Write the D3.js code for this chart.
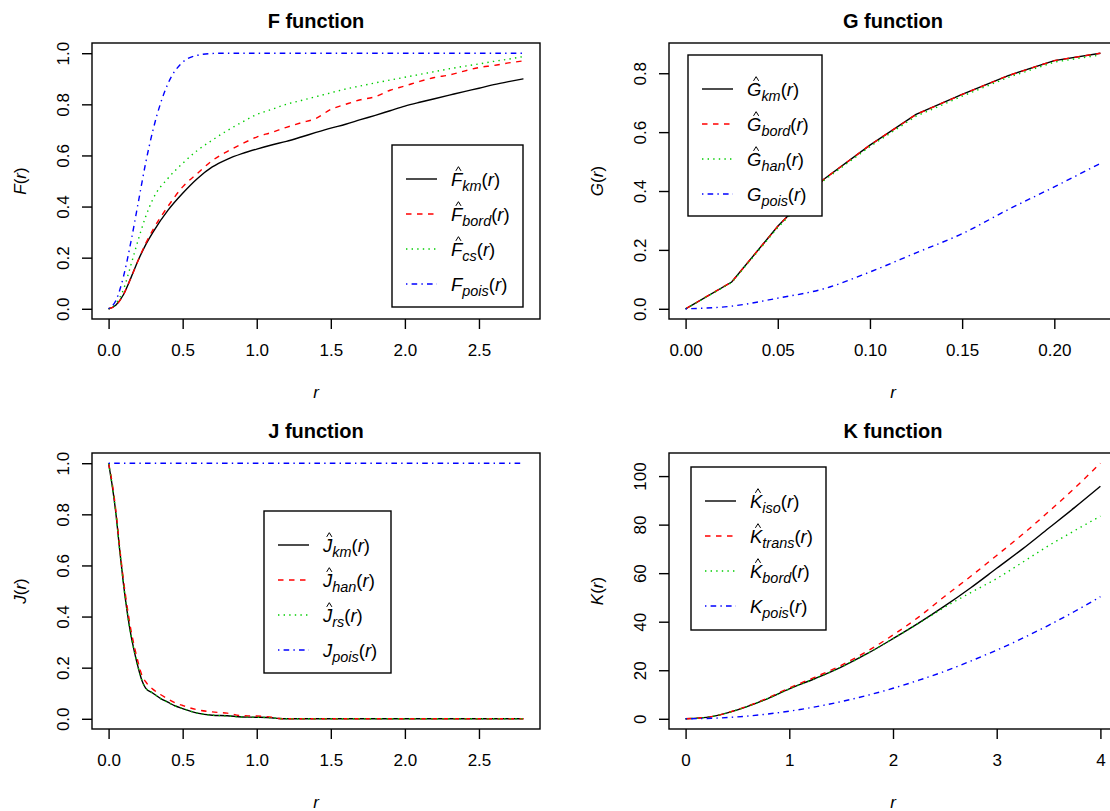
<!DOCTYPE html>
<html>
<head>
<meta charset="utf-8">
<script src="https://cdn.jsdelivr.net/npm/d3@7/dist/d3.min.js"></script>
<style>
  body { margin: 0; background: #fff; }
  svg { display: block; font-family: "Liberation Sans", Arial, Helvetica, sans-serif; }
</style>
</head>
<body>
<svg id="chart" width="1110" height="811"></svg>
<script>
// ---- data ----
// F function
const fR    = [0,0.05,0.1,0.15,0.2,0.25,0.3, 0.4,0.5,0.6,0.7,0.8,0.9,1.0, 1.1,1.2,1.3,1.4,1.5,1.6,1.7,1.8,1.9,2.0, 2.1,2.2,2.3,2.4,2.5,2.6,2.7,2.8];
const fKm   = [0,0.015,0.055,0.12,0.19,0.25,0.30, 0.385,0.452,0.51,0.555,0.585,0.607,0.625, 0.641,0.655,0.672,0.69,0.707,0.722,0.74,0.757,0.775,0.793, 0.808,0.822,0.836,0.85,0.863,0.877,0.889,0.90];
const fBord = [0,0.015,0.055,0.12,0.19,0.255,0.31, 0.40,0.477,0.53,0.58,0.615,0.645,0.672, 0.69,0.71,0.728,0.745,0.78,0.80,0.818,0.83,0.855,0.872, 0.89,0.905,0.915,0.93,0.944,0.952,0.962,0.97];
const fCs   = [0,0.02,0.075,0.17,0.27,0.36,0.43, 0.51,0.569,0.62,0.66,0.697,0.73,0.76, 0.78,0.80,0.815,0.83,0.845,0.86,0.872,0.884,0.895,0.906, 0.917,0.928,0.939,0.949,0.958,0.968,0.977,0.987];
const fPois = [0,0.033,0.125,0.26,0.415,0.57,0.70, 0.88,0.965,0.992,0.999,1,1,1, 1,1,1,1,1,1,1,1,1,1, 1,1,1,1,1,1,1,1];
const fXTicks = [0,0.5,1,1.5,2,2.5];
const fXLabels = ["0.0","0.5","1.0","1.5","2.0","2.5"];
const fYTicks = [0,0.2,0.4,0.6,0.8,1];
const fYLabels = ["0.0","0.2","0.4","0.6","0.8","1.0"];

// G function
const gR    = [0,0.025,0.05,0.075,0.1,0.125,0.15,0.175,0.2,0.225];
const gKm   = [0,0.091,0.28,0.44,0.556,0.66,0.728,0.792,0.843,0.868];
const gBord = [0,0.091,0.28,0.44,0.556,0.66,0.728,0.792,0.843,0.868];
const gHan  = [0,0.089,0.276,0.436,0.551,0.654,0.722,0.786,0.838,0.862];
const gPois = [0,0.009,0.036,0.068,0.125,0.19,0.255,0.337,0.414,0.494];
const gXTicks = [0,0.05,0.1,0.15,0.2];
const gXLabels = ["0.00","0.05","0.10","0.15","0.20"];
const gYTicks = [0,0.2,0.4,0.6,0.8];
const gYLabels = ["0.0","0.2","0.4","0.6","0.8"];

// J function
const jR    = [0,0.025,0.05,0.075,0.1,0.125,0.15,0.175,0.2,0.225,0.25, 0.3,0.35,0.4,0.45,0.5, 0.6,0.7,0.8,0.9,1.0, 1.1,1.15,1.2, 1.5,2.0,2.5,2.8];
const jKm   = [1,0.91,0.80,0.66,0.53,0.42,0.33,0.26,0.20,0.15,0.12, 0.10,0.08,0.065,0.05,0.04, 0.022,0.014,0.012,0.007,0.006, 0.004,0.001,0, 0,0,0,0];
const jHan  = [1,0.92,0.81,0.67,0.545,0.44,0.35,0.28,0.22,0.17,0.145, 0.115,0.095,0.078,0.062,0.052, 0.035,0.027,0.022,0.012,0.011, 0.006,0.001,0, 0,0,0,0];
const jRs   = [1,0.91,0.80,0.66,0.53,0.42,0.33,0.26,0.20,0.15,0.12, 0.10,0.079,0.064,0.05,0.04, 0.022,0.014,0.011,0.007,0.006, 0.004,0.001,0, 0,0,0,0];
const jPois = [1,1,1,1,1,1,1,1,1,1,1, 1,1,1,1,1, 1,1,1,1,1, 1,1,1, 1,1,1,1];
const jXTicks = fXTicks, jXLabels = fXLabels, jYTicks = fYTicks, jYLabels = fYLabels;

// K function
const kR     = [0,0.25,0.5,0.75,1,1.25,1.5,1.75,2,2.25,2.5,2.75,3,3.25,3.5,3.75,4];
const kIso   = [0,0.9,3.7,7.6,12.3,16.6,21.3,26.8,33.0,39.5,46.5,54,62,70,78.5,87,95.8];
const kTrans = [0,0.9,3.8,7.8,12.7,17.2,22.0,27.8,34.5,42,50.5,58.7,67.3,76,85.3,95,105.3];
const kBord  = [0,0.9,3.7,7.6,12.3,16.6,21.3,26.8,33.0,39.4,46.0,52,57.8,64.5,71.3,77.5,83.5];
const kPois  = [0,0.2,0.79,1.77,3.14,4.91,7.07,9.62,12.57,15.9,19.6,23.8,28.3,33.2,38.5,44.2,50.3];
const kXTicks = [0,1,2,3,4];
const kXLabels = ["0","1","2","3","4"];
const kYTicks = [0,20,40,60,80,100];
const kYLabels = ["0","20","40","60","80","100"];

// ---- styles (R palette 1:4, lty 1:4) ----
const lineStyles = [
  { color: "#000000", dash: null },
  { color: "#FF0000", dash: "5.5,5.5" },
  { color: "#00CD00", dash: "1.4,4.2" },
  { color: "#0000FF", dash: "1.4,4.2,5.6,4.2" }
];

const panels = [
  { id: "F", title: "F function", sym: "F", box: [92, 43, 540, 319],
    r: fR, series: [fKm, fBord, fCs, fPois], subs: ["km","bord","cs","pois"], hats: [1,1,1,0],
    xt: fXTicks, xl: fXLabels, yt: fYTicks, yl: fYLabels, legend: [392, 145, 131, 162], angular: false },
  { id: "G", title: "G function", sym: "G", box: [669, 43, 1117, 319],
    r: gR, series: [gKm, gBord, gHan, gPois], subs: ["km","bord","han","pois"], hats: [1,1,1,0],
    xt: gXTicks, xl: gXLabels, yt: gYTicks, yl: gYLabels, legend: [688, 55, 134, 161], angular: true },
  { id: "J", title: "J function", sym: "J", box: [92, 453, 540, 729],
    r: jR, series: [jKm, jHan, jRs, jPois], subs: ["km","han","rs","pois"], hats: [1,1,1,0],
    xt: jXTicks, xl: jXLabels, yt: jYTicks, yl: jYLabels, legend: [264, 511, 127, 162], angular: false },
  { id: "K", title: "K function", sym: "K", box: [669, 453, 1117, 729],
    r: kR, series: [kIso, kTrans, kBord, kPois], subs: ["iso","trans","bord","pois"], hats: [1,1,1,0],
    xt: kXTicks, xl: kXLabels, yt: kYTicks, yl: kYLabels, legend: [691, 467, 135, 163], angular: false }
];

const svg = d3.select("#chart");
svg.append("rect").attr("width", 1110).attr("height", 811).attr("fill", "#fff");
const defs = svg.append("defs");

// R style axis range: data range extended by 4% on each side
function padded(lo, hi) {
  const s = hi - lo;
  return [lo - 0.04 * s, hi + 0.04 * s];
}

// symbol with optional hat, italic subscript, then (r)
function mathLabel(g, x, y, sym, sub, hat, size, rotate) {
  const t = g.append("text")
    .attr("x", x).attr("y", y)
    .attr("font-size", size)
    .attr("text-anchor", rotate ? "middle" : "start");
  if (rotate) t.attr("transform", `rotate(-90,${x},${y})`);
  t.append("tspan").attr("font-style", "italic").text(sym);
  if (sub) {
    t.append("tspan").attr("font-style", "italic").attr("font-size", size * 0.78)
      .attr("dy", size * 0.28).text(sub);
    t.append("tspan").attr("dy", -size * 0.28).text("(");
  } else {
    t.append("tspan").text("(");
  }
  t.append("tspan").attr("font-style", "italic").text("r");
  t.append("tspan").text(")");
  if (hat) {
    // hat drawn as a small caret above the letter
    const ext = t.node().getExtentOfChar(0);
    const cx = ext.x + ext.width * 0.55 + 1.2;
    const top = y - size * 0.72 - 5.5;
    g.append("path")
      .attr("d", `M${cx - 2.6},${top + 4.2}L${cx},${top}L${cx + 2.6},${top + 4.2}`)
      .attr("fill", "none").attr("stroke", "#000").attr("stroke-width", 1);
  }
  return t;
}

panels.forEach(p => {
  const [x0, y0, x1, y1] = p.box;
  const g = svg.append("g");

  const allVals = p.series.flat();
  const x = d3.scaleLinear().domain(padded(d3.min(p.r), d3.max(p.r))).range([x0, x1]);
  const y = d3.scaleLinear().domain(padded(d3.min(allVals), d3.max(allVals))).range([y1, y0]);

  // title
  g.append("text")
    .attr("x", (x0 + x1) / 2).attr("y", y0 - 15)
    .attr("text-anchor", "middle")
    .attr("font-size", 20).attr("font-weight", "bold")
    .text(p.title);

  // x axis
  const xa = g.append("g").attr("transform", `translate(0,${y1})`)
    .call(d3.axisBottom(x).tickValues(p.xt).tickFormat((d, i) => p.xl[i]).tickSize(10).tickPadding(15));
  xa.select(".domain").remove();
  xa.selectAll("line").attr("stroke", "#000").attr("stroke-width", 1.4);
  xa.selectAll("text").attr("font-size", 17).attr("fill", "#000")
    .attr("font-family", null);

  // y axis, labels parallel to axis
  const ya = g.append("g").attr("transform", `translate(${x0},0)`)
    .call(d3.axisLeft(y).tickValues(p.yt).tickFormat((d, i) => p.yl[i]).tickSize(10));
  ya.select(".domain").remove();
  ya.selectAll("line").attr("stroke", "#000").attr("stroke-width", 1.4);
  ya.selectAll("text")
    .attr("x", 0).attr("y", 0).attr("dy", "0.35em")
    .attr("transform", "translate(-29,0) rotate(-90)")
    .attr("text-anchor", "middle")
    .attr("font-size", 17).attr("fill", "#000")
    .attr("font-family", null);

  // axis titles
  g.append("text")
    .attr("x", (x0 + x1) / 2).attr("y", y1 + 79)
    .attr("text-anchor", "middle").attr("font-size", 17)
    .attr("font-style", "italic").text("r");
  mathLabel(g, x0 - 66, (y0 + y1) / 2, p.sym, null, false, 17, true);

  // curves
  defs.append("clipPath").attr("id", "clip" + p.id)
    .append("rect").attr("x", x0).attr("y", y0).attr("width", x1 - x0).attr("height", y1 - y0);
  const plot = g.append("g").attr("clip-path", `url(#clip${p.id})`);
  p.series.forEach((vals, si) => {
    const line = d3.line()
      .x((d, i) => x(p.r[i]))
      .y(d => y(d))
      .curve(p.angular && si < 3 ? d3.curveLinear : d3.curveMonotoneX);
    plot.append("path")
      .datum(vals)
      .attr("d", line)
      .attr("fill", "none")
      .attr("stroke", lineStyles[si].color)
      .attr("stroke-width", 1.4)
      .attr("stroke-dasharray", lineStyles[si].dash);
  });

  // box
  g.append("rect")
    .attr("x", x0).attr("y", y0).attr("width", x1 - x0).attr("height", y1 - y0)
    .attr("fill", "none").attr("stroke", "#000").attr("stroke-width", 1.4);

  // legend
  const [lx, ly, lw, lh] = p.legend;
  const lg = g.append("g");
  lg.append("rect").attr("x", lx).attr("y", ly).attr("width", lw).attr("height", lh)
    .attr("fill", "#fff").attr("stroke", "#000").attr("stroke-width", 1.4);
  p.subs.forEach((s, i) => {
    const ry = ly + 34 + i * 35;
    lg.append("line")
      .attr("x1", lx + 14).attr("x2", lx + 45).attr("y1", ry).attr("y2", ry)
      .attr("stroke", lineStyles[i].color).attr("stroke-width", 1.4)
      .attr("stroke-dasharray", lineStyles[i].dash);
    mathLabel(lg, lx + 59, ry + 6.5, p.sym, s, p.hats[i], 18.5, false);
  });
});
</script>
</body>
</html>
